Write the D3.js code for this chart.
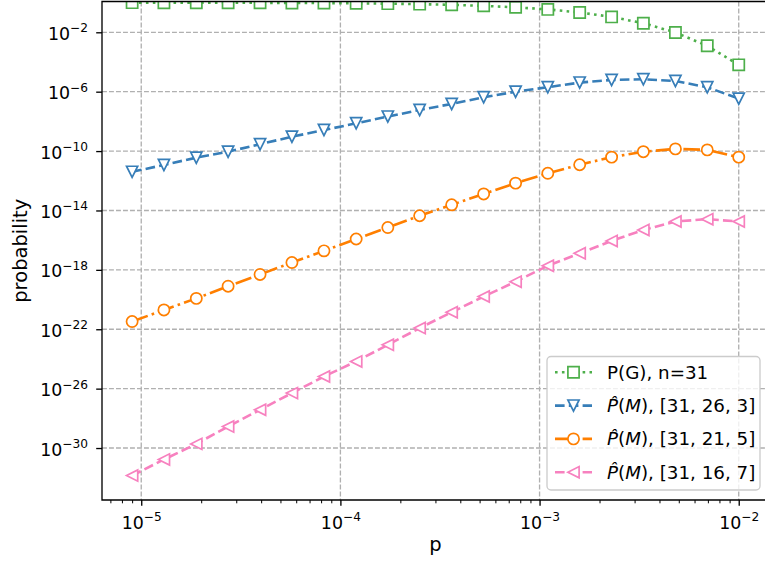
<!DOCTYPE html>
<html>
<head>
<meta charset="utf-8">
<script src="https://cdn.jsdelivr.net/npm/d3@7"></script>
<style>
  body { margin: 0; background: #fff; }
  svg { display: block; font-family: "DejaVu Sans", sans-serif; }
</style>
</head>
<body>
<div id="chart"></div>
<script>
// error rates on the x axis
var pValues = [9.0e-6, 1.30e-5, 1.89e-5, 2.73e-5, 3.95e-5, 5.71e-5, 8.27e-5, 1.20e-4, 1.73e-4, 2.50e-4,
  3.62e-4, 5.24e-4, 7.58e-4, 1.10e-3, 1.59e-3, 2.30e-3, 3.32e-3, 4.81e-3, 6.95e-3, 1.0e-2]

var probG = [0.991, 0.988, 0.982, 0.974, 0.963, 0.947, 0.924, 0.891, 0.847, 0.786,
  0.706, 0.604, 0.482, 0.347, 0.217, 0.109, 0.041, 0.0097, 1.23e-3, 6.4e-5]

var probM26 = [4.0e-12, 1.17e-11, 3.6e-11, 9.1e-11, 2.9e-10, 9.3e-10, 2.6e-9, 7.4e-9, 2.1e-8, 5.9e-8,
  1.5e-7, 4.2e-7, 1.0e-6, 2.0e-6, 4.1e-6, 6.2e-6, 6.9e-6, 5.2e-6, 2.0e-6, 3.4e-7]

var probM21 = [3.3e-22, 2.0e-21, 1.2e-20, 7.9e-20, 4.9e-19, 3.1e-18, 1.9e-17, 1.2e-16, 7.1e-16, 4.4e-15,
  2.4e-14, 1.3e-13, 6.9e-13, 3.2e-12, 1.2e-11, 3.9e-11, 9.1e-11, 1.4e-10, 1.2e-10, 3.9e-11]

var probM16 = [1.4e-32, 1.7e-31, 1.9e-30, 2.8e-29, 3.8e-28, 5.0e-27, 6.6e-26, 6.8e-25, 8.9e-24, 1.2e-22,
  1.4e-21, 1.6e-20, 1.6e-19, 1.9e-18, 1.3e-17, 8.9e-17, 4.9e-16, 1.8e-15, 2.6e-15, 1.8e-15]

var xTickExps = [-5, -4, -3, -2]
var yTickExps = [-2, -6, -10, -14, -18, -22, -26, -30]
var seriesNames = ["P(G), n=31", "[31, 26, 3]", "[31, 21, 5]", "[31, 16, 7]"]

var width = 765
var height = 563
var plotLeft = 102, plotRight = 769, plotTop = 1.5, plotBottom = 500

var svg = d3.select("#chart")
  .append("svg")
  .attr("width", width)
  .attr("height", height)

var xScale = d3.scaleLog()
  .domain([Math.pow(10, -5.197), Math.pow(10, -1.848)])
  .range([plotLeft, plotRight])

var yScale = d3.scaleLog()
  .domain([Math.pow(10, -33.5), Math.pow(10, 0.074)])
  .range([plotBottom, plotTop])

svg.append("clipPath")
  .attr("id", "plot-clip")
  .append("rect")
  .attr("x", plotLeft)
  .attr("y", plotTop)
  .attr("width", plotRight - plotLeft)
  .attr("height", plotBottom - plotTop)

// Render grid
var gridG = svg.append("g")
  .attr("class", "grid")
  .style("stroke", "#b0b0b0")
  .style("stroke-width", 1.33)
  .style("stroke-dasharray", "4.9,2.1")

gridG.selectAll(".gx")
  .data(xTickExps)
  .enter()
  .append("line")
  .attr("x1", d => xScale(Math.pow(10, d)))
  .attr("x2", d => xScale(Math.pow(10, d)))
  .attr("y1", plotTop)
  .attr("y2", plotBottom)

gridG.selectAll(".gy")
  .data(yTickExps)
  .enter()
  .append("line")
  .attr("x1", plotLeft)
  .attr("x2", plotRight)
  .attr("y1", d => yScale(Math.pow(10, d)))
  .attr("y2", d => yScale(Math.pow(10, d)))

// Series
var series = [
  { values: probG, color: "#4daf4a", dash: "2.6,4.3", marker: "square" },
  { values: probM26, color: "#377eb8", dash: "9.6,4.2", marker: "down" },
  { values: probM21, color: "#ff7f00", dash: "16.6,4.2,2.6,4.2", marker: "circle" },
  { values: probM16, color: "#f781bf", dash: "9.6,4.2", marker: "left" }
]

function markerPath(type) {
  var s = 5.6
  if (type == "square") return `M${-s},${-s}H${s}V${s}H${-s}Z`
  if (type == "down") return `M0,${s}L${-s},${-s}L${s},${-s}Z`
  if (type == "left") return `M${-s},0L${s},${-s}L${s},${s}Z`
  return d3.symbol().type(d3.symbolCircle).size(Math.PI * s * s)()
}

var line = d3.line()
  .x((d, i) => xScale(pValues[i]))
  .y(d => yScale(d))

var linesG = svg.append("g")
  .attr("class", "lines")
  .attr("clip-path", "url(#plot-clip)")

series.forEach(function(s) {
  linesG.append("path")
    .datum(s.values)
    .attr("d", line)
    .style("fill", "none")
    .style("stroke", s.color)
    .style("stroke-width", 2.6)
    .style("stroke-dasharray", s.dash)

  linesG.selectAll(null)
    .data(s.values)
    .enter()
    .append("path")
    .attr("d", markerPath(s.marker))
    .attr("transform", (d, i) => `translate(${xScale(pValues[i])},${yScale(d)})`)
    .style("fill", "#fff")
    .style("stroke", s.color)
    .style("stroke-width", 1.7)
})

// Superscript tick labels like 10^-5
function powerLabel(sel, exp) {
  sel.text(null)
  sel.append("tspan").text("10")
  sel.append("tspan")
    .attr("dy", -7.5)
    .style("font-size", "12.2px")
    .text("\u2212" + Math.abs(exp))
}

// Render X axis
var xMinor = []
xTickExps.concat([-6]).forEach(function(e) {
  for (var k = 2; k <= 9; k++) {
    var v = k * Math.pow(10, e)
    if (v > xScale.domain()[0] && v < xScale.domain()[1]) xMinor.push(v)
  }
})

svg.append("g")
  .attr("transform", `translate(0,${plotBottom})`)
  .call(d3.axisBottom(xScale).tickValues(xMinor).tickSize(3.3).tickSizeOuter(0).tickFormat(""))
  .call(g => g.select(".domain").remove())
  .selectAll("line").style("stroke-width", 1)

var xAxisG = svg.append("g")
  .attr("transform", `translate(0,${plotBottom})`)
  .call(d3.axisBottom(xScale).tickValues(xTickExps.map(e => Math.pow(10, e))).tickSize(5.8).tickSizeOuter(0).tickPadding(0))
  .call(g => g.select(".domain").remove())

xAxisG.selectAll("line").style("stroke-width", 1.33)
xAxisG.selectAll(".tick text")
  .attr("dy", null)
  .attr("y", 28.5)
  .style("font-family", "DejaVu Sans")
  .style("font-size", "17.4px")
  .style("fill", "#000")
  .each(function(d, i) { powerLabel(d3.select(this), xTickExps[i]) })

// Render Y axis
var yAxisG = svg.append("g")
  .attr("transform", `translate(${plotLeft},0)`)
  .call(d3.axisLeft(yScale).tickValues(yTickExps.map(e => Math.pow(10, e))).tickSize(5.8).tickSizeOuter(0).tickPadding(0))
  .call(g => g.select(".domain").remove())

yAxisG.selectAll("line").style("stroke-width", 1.33)
yAxisG.selectAll(".tick text")
  .attr("dy", null)
  .attr("x", -14)
  .attr("y", 7)
  .style("font-family", "DejaVu Sans")
  .style("font-size", "17.4px")
  .style("fill", "#000")
  .each(function(d, i) { powerLabel(d3.select(this), yTickExps[i]) })

// Spines
svg.append("path")
  .attr("d", `M${plotRight},${plotTop}H${plotLeft}V${plotBottom}H${plotRight}`)
  .style("fill", "none")
  .style("stroke", "#000")
  .style("stroke-width", 1.33)

// Axis labels
svg.append("text")
  .attr("text-anchor", "middle")
  .attr("transform", `translate(${27},${(plotTop + plotBottom) / 2}) rotate(-90)`)
  .style("font-size", "19.5px")
  .text("probability")

svg.append("text")
  .attr("text-anchor", "middle")
  .attr("x", (plotLeft + plotRight) / 2)
  .attr("y", 551)
  .style("font-size", "19.5px")
  .text("p")

// Legend
var legendG = svg.append("g")
  .attr("class", "legend")

legendG.append("rect")
  .attr("x", 547)
  .attr("y", 356.5)
  .attr("width", 213)
  .attr("height", 133.5)
  .attr("rx", 4)
  .style("fill", "#fff")
  .style("fill-opacity", 0.8)
  .style("stroke", "#cccccc")
  .style("stroke-width", 1.33)

series.forEach(function(s, i) {
  var cy = 372.3 + i * 33.3
  legendG.append("line")
    .attr("x1", 555)
    .attr("x2", 592)
    .attr("y1", cy)
    .attr("y2", cy)
    .style("stroke", s.color)
    .style("stroke-width", 2.6)
    .style("stroke-dasharray", s.dash)
  legendG.append("path")
    .attr("d", markerPath(s.marker))
    .attr("transform", `translate(573.5,${cy})`)
    .style("fill", "#fff")
    .style("stroke", s.color)
    .style("stroke-width", 1.7)

  var t = legendG.append("text")
    .attr("x", 607)
    .attr("y", cy + 6.5)
    .style("font-size", "18.3px")
  if (i == 0) {
    t.text(seriesNames[i])
  } else {
    t.append("tspan").style("font-style", "italic").text("P\u0302")
    t.append("tspan").text("(")
    t.append("tspan").style("font-style", "italic").text("M")
    t.append("tspan").text("), " + seriesNames[i])
  }
})
</script>
</body>
</html>
